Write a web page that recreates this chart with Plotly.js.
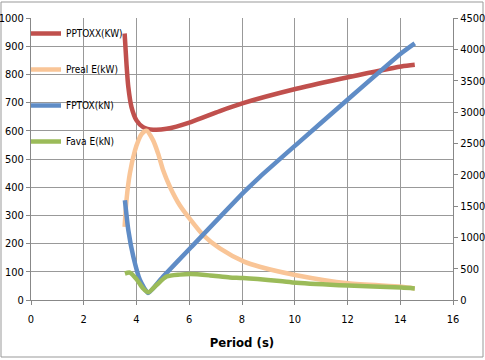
<!DOCTYPE html>
<html>
<head>
<meta charset="utf-8">
<script src="https://cdn.plot.ly/plotly-3.0.1.min.js"></script>
<style>
html,body{margin:0;padding:0;background:#fff;}
#chart{width:485px;height:360px;}
</style>
</head>
<body>
<div id="chart"></div>
<script>
// PPTOXX (kW) – left axis
var pptoxxPeriod = [3.55,3.62,3.69,3.81,4.0,4.25,4.63,5.14,6.06,7.16,8.04,10.06,12.02,14.04,14.55];
var pptoxxKW     = [945,837,755,684,637,613,604,607,631,670,698,749,790,828,834];

// Preal E (kW) – left axis
var prealPeriod = [3.55,3.62,3.75,3.94,4.07,4.19,4.38,4.63,4.82,5.01,5.27,5.64,6.06,6.53,7.16,8.08,8.67,10.06,12.02,14.04,14.55];
var prealKW     = [259,354,450,530,565,588,600,566,519,460,401,336,283,230,183,136,118,88,59,47,41];

// FPTOX (kN) – right axis
var fptoxPeriod = [3.56,3.69,3.88,4.13,4.44,5.01,6.06,8.08,8.67,10.06,12.02,14.04,14.55];
var fptoxKN     = [1593,1116,689,320,113,374,837,1724,1962,2480,3204,3938,4095];

// Fava E (kN) – right axis
var favaPeriod = [3.56,3.75,4.0,4.25,4.44,4.76,5.14,5.64,6.06,6.78,7.54,8.04,9.43,10.06,12.02,14.04,14.55];
var favaKN     = [423,437,333,185,122,239,374,405,414,392,360,351,302,275,230,198,185];

var seriesNames = ["PPTOXX(KW)","Preal E(kW)","FPTOX(kN)","Fava E(kN)"];
var xTickVals = [0,2,4,6,8,10,12,14,16];
var yLeftTicks = [0,100,200,300,400,500,600,700,800,900,1000];
var yRightTicks = [0,500,1000,1500,2000,2500,3000,3500,4000,4500];

var FONT = "'DejaVu Sans Condensed','Liberation Sans Narrow','Arial Narrow','Liberation Sans',Arial,sans-serif";

function tr(x, y, name, color, axis, grp, sm) {
  return {
    x: x, y: y, name: name, type: 'scatter', mode: 'lines',
    yaxis: axis, legendgroup: grp,
    line: {color: color, width: 4.5, shape: 'spline', smoothing: sm}
  };
}

var data = [
  tr(pptoxxPeriod, pptoxxKW, seriesNames[0], '#C0504D', 'y', 'a', 0.7),
  tr(prealPeriod, prealKW, seriesNames[1], '#F9C597', 'y', 'b', 0.7),
  tr(fptoxPeriod, fptoxKN, seriesNames[2], '#5F8CC6', 'y2', 'c', 0.5),
  tr(favaPeriod, favaKN, seriesNames[3], '#9BBB59', 'y2', 'd', 0.7)
];

var PW = 422, PH = 282;
var layout = {
  width: 485, height: 360,
  margin: {l: 31, r: 32, t: 18, b: 60},
  paper_bgcolor: '#fff', plot_bgcolor: '#fff',
  font: {family: FONT, size: 11, color: '#000'},
  showlegend: true,
  legend: {
    x: -5/PW, y: 1 - 1/PH, xanchor: 'left', yanchor: 'top',
    bgcolor: 'rgba(0,0,0,0)', font: {family: FONT, size: 10, color: '#000'},
    tracegroupgap: 17, itemwidth: 30
  },
  xaxis: {
    range: [0, 16], tickvals: xTickVals, ticktext: xTickVals.map(String),
    showgrid: true, gridcolor: '#999', gridwidth: 1,
    showline: true, linecolor: '#888', linewidth: 1,
    ticks: 'outside', ticklen: 4, tickcolor: '#888',
    ticklabelstandoff: 5,
    zeroline: false, tickfont: {family: FONT, size: 11},
    title: {text: '<b>Period (s)</b>', font: {family: FONT, size: 13}, standoff: 12},
    automargin: false
  },
  yaxis: {
    range: [0, 1000], tickvals: yLeftTicks, ticktext: yLeftTicks.map(String),
    showgrid: true, gridcolor: '#999', gridwidth: 1,
    showline: true, linecolor: '#888', linewidth: 1,
    ticks: 'outside', ticklen: 4, tickcolor: '#888',
    zeroline: false, tickfont: {family: FONT, size: 11}, automargin: false
  },
  yaxis2: {
    range: [0, 4500], tickvals: yRightTicks, ticktext: yRightTicks.map(String),
    overlaying: 'y', side: 'right', showgrid: false,
    showline: true, linecolor: '#888', linewidth: 1,
    ticks: 'outside', ticklen: 4, tickcolor: '#888',
    zeroline: false, tickfont: {family: FONT, size: 11}, automargin: false
  },
  shapes: [
    {
      type: 'rect', xref: 'paper', yref: 'paper',
      x0: -30/PW, x1: 1 + 30/PW, y0: -57/PH, y1: 1 + 16/PH,
      line: {color: '#999', width: 1}, fillcolor: 'rgba(0,0,0,0)', layer: 'below'
    },
    {
      type: 'rect', xref: 'paper', yref: 'paper',
      x0: 1/PW, x1: 84/PW, y0: 1 - 140/PH, y1: 1 - 2/PH,
      line: {width: 0}, fillcolor: '#fff', layer: 'between'
    }
  ]
};

Plotly.newPlot('chart', data, layout, {displayModeBar: false, staticPlot: true});
</script>
</body>
</html>
